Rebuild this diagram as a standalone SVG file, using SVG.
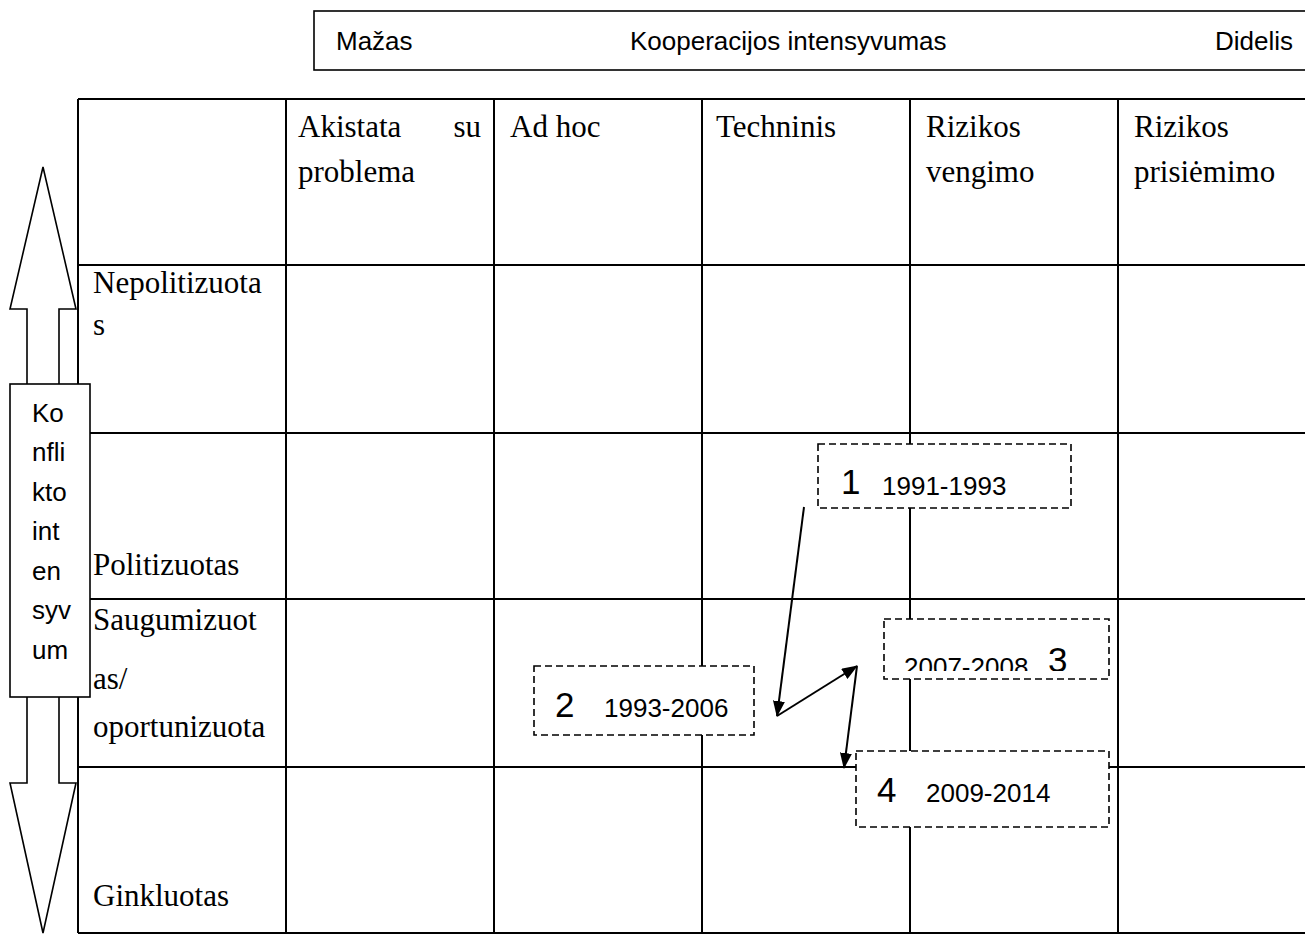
<svg xmlns="http://www.w3.org/2000/svg" width="1305" height="934" viewBox="0 0 1305 934">
<style>
.ser{font-family:"Liberation Serif","Times New Roman",serif;font-size:31px;fill:#000}
.sans{font-family:"Liberation Sans",Arial,sans-serif;font-size:26px;fill:#000}
.big{font-family:"Liberation Sans",Arial,sans-serif;font-size:35px;fill:#000}
.grid{stroke:#000;stroke-width:2;fill:none}
.dash{fill:#fff;stroke:#000;stroke-width:1.6;stroke-dasharray:7 4}
.solid{fill:#fff;stroke:#000;stroke-width:1.6}
.conn{stroke:#000;stroke-width:2;fill:none;marker-end:url(#ah)}
</style>
<defs>
<marker id="ah" markerWidth="16" markerHeight="12" refX="15" refY="6" orient="auto" markerUnits="userSpaceOnUse">
<path d="M0,0 L16,6 L0,12 Z" fill="#000"/>
</marker>
<clipPath id="clip3"><rect x="884" y="619" width="225" height="52"/></clipPath>
</defs>
<rect width="1305" height="934" fill="#fff"/>

<g id="coop-axis">
<rect x="314" y="11" width="1000" height="59" class="solid"/>
<text x="336" y="50" class="sans">Mažas</text>
<text x="630" y="50" class="sans">Kooperacijos intensyvumas</text>
<text x="1293" y="50" class="sans" text-anchor="end">Didelis</text>
</g>

<g id="conflict-arrow">
<polygon points="43,167 76,309 59,309 59,783 76,783 43,933 10,783 27,783 27,309 10,309" class="solid"/>
</g>

<g id="table">
<path class="grid" d="M78,99 H1305 M78,265 H1305 M78,433 H1305 M78,599 H1305 M78,767 H1305 M78,933 H1305 M78,99 V933 M286,99 V933 M494,99 V933 M702,99 V933 M910,99 V933 M1118,99 V933"/>
<text x="298" y="137" class="ser">Akistata</text>
<text x="481" y="137" class="ser" text-anchor="end">su</text>
<text x="298" y="182" class="ser">problema</text>
<text x="510" y="137" class="ser">Ad hoc</text>
<text x="716" y="137" class="ser">Techninis</text>
<text x="926" y="137" class="ser">Rizikos</text>
<text x="926" y="182" class="ser">vengimo</text>
<text x="1134" y="137" class="ser">Rizikos</text>
<text x="1134" y="182" class="ser">prisiėmimo</text>
<text x="93" y="293" class="ser">Nepolitizuota</text>
<text x="93" y="335" class="ser">s</text>
<text x="93" y="575" class="ser">Politizuotas</text>
<text x="93" y="630" class="ser">Saugumizuot</text>
<text x="93" y="689" class="ser">as/</text>
<text x="93" y="737" class="ser">oportunizuota</text>
<text x="93" y="906" class="ser">Ginkluotas</text>
</g>

<g id="period-1">
<rect x="818" y="444" width="253" height="64" class="dash"/>
<text x="841" y="494" class="big">1</text>
<text x="882" y="495" class="sans">1991-1993</text>
</g>
<g id="period-2">
<rect x="534" y="666" width="220" height="69" class="dash"/>
<text x="555" y="717" class="big">2</text>
<text x="604" y="717" class="sans">1993-2006</text>
</g>
<g id="period-3">
<rect x="884" y="619" width="225" height="60" class="dash"/>
<g clip-path="url(#clip3)">
<text x="904" y="676" class="sans">2007-2008</text>
<text x="1048" y="672" class="big">3</text>
</g>
</g>
<g id="period-4">
<rect x="856" y="751" width="253" height="76" class="dash"/>
<text x="877" y="802" class="big">4</text>
<text x="926" y="802" class="sans">2009-2014</text>
</g>

<g id="connectors">
<line x1="804" y1="507" x2="777" y2="716" class="conn"/>
<line x1="777" y1="716" x2="857" y2="666" class="conn"/>
<line x1="857" y1="666" x2="844" y2="768" class="conn"/>
</g>

<g id="conflict-box">
<rect x="10" y="384" width="80" height="313" class="solid"/>
<text x="32" y="422" class="sans">Ko</text>
<text x="32" y="461" class="sans">nfli</text>
<text x="32" y="501" class="sans">kto</text>
<text x="32" y="540" class="sans">int</text>
<text x="32" y="580" class="sans">en</text>
<text x="32" y="619" class="sans">syv</text>
<text x="32" y="659" class="sans">um</text>
</g>
</svg>
